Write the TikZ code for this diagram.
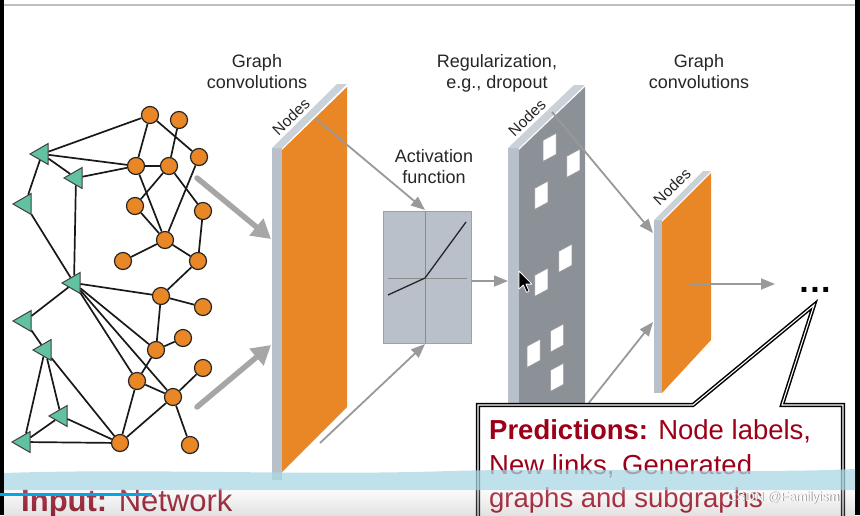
\documentclass[tikz,border=0pt]{standalone}
\usepackage{fontspec}
\setmainfont{Liberation Sans}
\usetikzlibrary{arrows.meta,shapes.geometric}
\definecolor{orng}{HTML}{E98727}
\definecolor{tealg}{HTML}{62C29F}
\definecolor{stripc}{HTML}{B8C1CB}
\definecolor{striptop}{HTML}{CAD1D9}
\definecolor{dropc}{HTML}{8B9197}
\definecolor{actc}{HTML}{B9C0C9}
\definecolor{actb}{HTML}{9AA2AA}
\definecolor{arrg}{HTML}{999999}
\definecolor{thickg}{HTML}{A6A6A6}
\definecolor{dred}{HTML}{9C0018}
\definecolor{bandc}{HTML}{AAD8E5}
\definecolor{progc}{HTML}{00A6E6}
\begin{document}
\begin{tikzpicture}[x=1pt,y=-1pt,
  onode/.style={circle, fill=orng, draw=black!85, line width=1.2, minimum size=17, inner sep=0},
  tnode/.style={regular polygon, regular polygon sides=3, shape border rotate=90, fill=tealg, draw=black!75, line width=1, minimum size=24, inner sep=0},
  edge/.style={line width=1.7, draw=black!90},
  thickarr/.style={line width=5.5, draw=thickg, -{Triangle[length=19pt,width=21pt]}},
  thinarr/.style={line width=1.8, draw=arrg, -{Triangle[length=14pt,width=11pt]}},
  ttl/.style={font=\fontsize{18}{21}\selectfont, inner sep=0, anchor=base, text=black!85},
  nodeslbl/.style={font=\fontsize{15.5}{15.5}\selectfont, rotate=44, inner sep=0, text=black!85},
  pred/.style={font=\fontsize{27.5}{34}\selectfont, inner sep=0, anchor=base west, text=dred}
]
\useasboundingbox (0,0) rectangle (860,515);
\clip (0,0) rectangle (860,515);
\fill[white] (0,0) rectangle (860,515);
\fill[black] (0,0) rectangle (4,515);
\fill[black] (855,0) rectangle (860,515);
\draw[black!25, line width=2] (4,5) -- (855,5);

% ---------- network ----------
\node[onode] (A) at (150,115) {};
\node[onode] (B) at (179,120) {};
\node[onode] (C) at (199,157) {};
\node[onode] (D) at (136,166) {};
\node[onode] (E) at (169,166) {};
\node[onode] (F) at (135,206) {};
\node[onode] (G) at (203,211) {};
\node[onode] (H) at (165,240) {};
\node[onode] (I) at (123,261) {};
\node[onode] (J) at (198,261) {};
\node[onode] (K) at (161,296) {};
\node[onode] (L) at (203,307) {};
\node[onode] (M) at (156,350) {};
\node[onode] (N) at (183,338) {};
\node[onode] (O) at (137,381) {};
\node[onode] (P) at (173,397) {};
\node[onode] (Q) at (203,368) {};
\node[onode] (R) at (120,443) {};
\node[onode] (S) at (190,445) {};
\node[tnode] (T1) at (42,154) {};
\node[tnode] (T2) at (76,178) {};
\node[tnode] (T3) at (25,204) {};
\node[tnode] (T4) at (74,283) {};
\node[tnode] (T5) at (25,321) {};
\node[tnode] (T6) at (45,350) {};
\node[tnode] (T7) at (61,416) {};
\node[tnode] (T8) at (24,442) {};
\foreach \a/\b in {A/T1,A/D,A/C,B/E,T1/D,T1/T2,T2/D,T1/T3,T2/T4,T3/T4,D/E,D/H,E/F,E/G,C/H,F/H,G/J,H/I,H/J,J/K,T4/K,K/L,K/M,M/N,M/O,T4/M,T4/O,T4/P,T4/T5,T5/T6,T6/T8,T6/T7,T6/R,T7/T8,T7/R,T8/R,R/O,R/P,O/P,P/Q,P/S}
  \draw[edge] (\a) -- (\b);

% ---------- thick arrows ----------
\coordinate (a1s) at (197,178);
\coordinate (a1e) at (271,239);
\coordinate (a2s) at (197,407);
\coordinate (a2e) at (271,345);
\draw[thickarr, line cap=round] (a1s) -- (a1e);
\draw[thickarr, line cap=round] (a2s) -- (a2e);

% ---------- panel 1 ----------
\fill[stripc] (272,148) rectangle (282,480);
\fill[striptop] (272,148) -- (337,84) -- (347,84) -- (282,148) -- cycle;
\fill[orng] (282,150) -- (347,87) -- (347,407) -- (282,472) -- cycle;
\node[nodeslbl] (n1) at (291,117) {Nodes};

% ---------- activation box ----------
\node[draw=actb, fill=actc, line width=1, minimum width=88, minimum height=132, inner sep=0] (act) at (427,277) {};
\draw[black!45, line width=1] (425,211) -- (425,343);
\draw[black!45, line width=1] (388,278) -- (467,278);
\draw[black!85, line width=1.3] (388,295) -- (425,278) -- (466,222);
\coordinate (p1a) at (315,118);
\coordinate (p1b) at (320,443);
\coordinate (actT) at (425,210);
\coordinate (actB) at (425,344);
\draw[thinarr] (p1a) -- (actT);
\draw[thinarr] (p1b) -- (actB);

% ---------- dropout panel ----------
\fill[stripc] (508,148) rectangle (519,480);
\fill[striptop] (508,148) -- (574,85) -- (585,85) -- (519,148) -- cycle;
\fill[dropc] (519,150) -- (585,87) -- (585,480) -- (519,480) -- cycle;
\foreach \cx/\cy in {549.7/147.3, 573.3/163.3, 541.3/195.3, 565.3/258.3, 541.3/282.3, 557/338, 533.7/353.3, 557/377.3}
  \filldraw[fill=white, draw=black!40, line width=0.5] (\cx-6.5,\cy-7) -- (\cx+6.5,\cy-14) -- (\cx+6.5,\cy+7) -- (\cx-6.5,\cy+14) -- cycle;
\node[nodeslbl] (n2) at (527,118) {Nodes};
\coordinate (actR) at (471,281);
\coordinate (dropL) at (508,281);
\draw[thinarr] (actR) -- (dropL);

% ---------- panel 3 ----------
\fill[stripc] (654,220) rectangle (662,393);
\fill[striptop] (654,220) -- (703,171) -- (711,171) -- (662,220) -- cycle;
\fill[orng] (662,222) -- (711,173) -- (711,340) -- (662,393) -- cycle;
\node[nodeslbl] (n3) at (672,187) {Nodes};
\coordinate (d1s) at (552,112);
\coordinate (d1e) at (653,233);
\coordinate (d2s) at (588,404);
\coordinate (d2e) at (653,322);
\draw[thinarr] (d1s) -- (d1e);
\draw[thinarr] (d2s) -- (d2e);
\coordinate (p3s) at (690,284);
\coordinate (p3e) at (775,284);
\draw[thinarr] (p3s) -- (p3e);
\node[font=\fontsize{34}{34}\selectfont\bfseries, inner sep=0, anchor=base] (dots) at (815,292) {.\kern1.5pt.\kern1.5pt.};

% ---------- titles ----------
\node[ttl] (t1a) at (257,67) {Graph};
\node[ttl] (t1b) at (257,88) {convolutions};
\node[ttl] (t2a) at (497,67) {Regularization,};
\node[ttl] (t2b) at (497,88) {e.g., dropout};
\node[ttl] (t3a) at (699,67) {Graph};
\node[ttl] (t3b) at (699,88) {convolutions};
\node[ttl] (t4a) at (434,162) {Activation};
\node[ttl] (t4b) at (434,183) {function};

% ---------- cursor ----------
\filldraw[fill=black, draw=white, line width=0.8, line join=round] (519,271) -- ++(0,18) -- ++(4.3,-4) -- ++(3.2,7.3) -- ++(2.6,-1.2) -- ++(-3.2,-7) -- ++(6,0) -- cycle;

% ---------- callout ----------
\draw[line width=1.5, double=white, double distance=1.1, fill=white, line join=miter] (478,405) -- (693,405) -- (814,305) -- (782,405) -- (843,405) -- (843,540) -- (478,540) -- cycle;
\node[pred] (pr1) at (489,439) {\textbf{Predictions:} Node labels,};
\node[pred] (pr2) at (489,474) {New links, Generated};
\node[pred] (pr3) at (489,507) {graphs and subgraphs};

% ---------- input label ----------
\node[font=\fontsize{31}{31}\selectfont, inner sep=0, anchor=base west, text=dred!90!black] (inp) at (21,511) {\textbf{Input:} Network};

% ---------- video overlay ----------
\fill[bandc, opacity=0.75] (4,473) .. controls (150,468) and (300,476) .. (450,471) .. controls (600,467) and (750,474) .. (855,469) -- (855,490) -- (4,490) -- cycle;
\shade[top color=black!5, bottom color=black!45, opacity=0.25] (4,490) rectangle (855,515);
\coordinate (pgs) at (0,494);
\coordinate (pge) at (152,494);
\draw[progc, line width=3] (pgs) -- (pge);
\node[font=\fontsize{13}{13}\selectfont, inner sep=0, anchor=base west, text=black!45] (wms) at (727.8,501.8) {CSDN @Familyism};
\node[font=\fontsize{13}{13}\selectfont, inner sep=0, anchor=base west, text=white] (wm) at (727,501) {CSDN @Familyism};
\end{tikzpicture}
\end{document}
